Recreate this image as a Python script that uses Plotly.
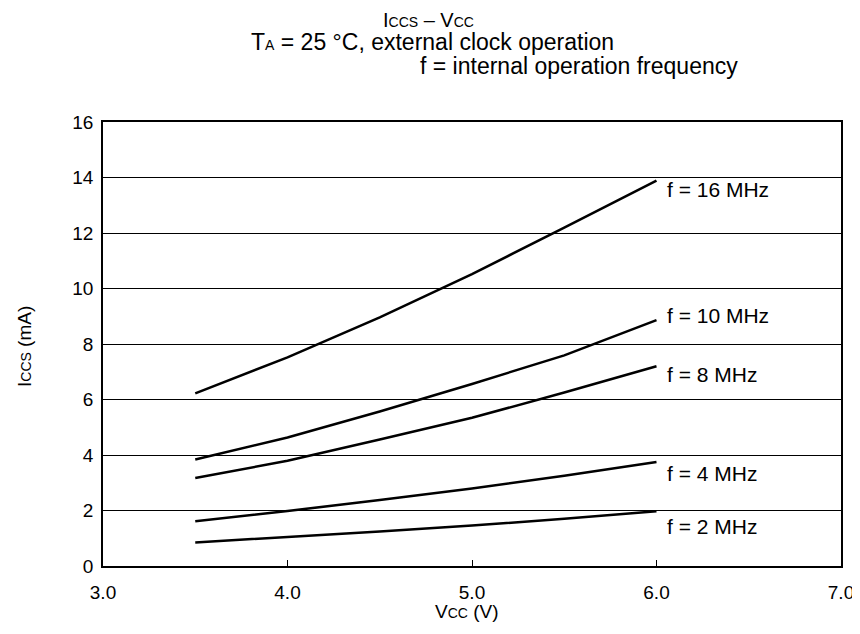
import plotly.graph_objects as go

vcc = [3.5, 4.0, 4.5, 5.0, 5.5, 6.0]
i_16mhz = [6.22, 7.52, 8.96, 10.52, 12.19, 13.89]
i_10mhz = [3.84, 4.63, 5.57, 6.56, 7.59, 8.86]
i_8mhz = [3.17, 3.79, 4.56, 5.34, 6.25, 7.20]
i_4mhz = [1.61, 1.98, 2.38, 2.79, 3.25, 3.75]
i_2mhz = [0.85, 1.04, 1.24, 1.46, 1.70, 1.97]
series_names = ["f = 16 MHz", "f = 10 MHz", "f = 8 MHz", "f = 4 MHz", "f = 2 MHz"]
series_values = [i_16mhz, i_10mhz, i_8mhz, i_4mhz, i_2mhz]
x_ticks = [3.0, 4.0, 5.0, 6.0, 7.0]
x_tick_labels = ["3.0", "4.0", "5.0", "6.0", "7.0"]
y_ticks = [0, 2, 4, 6, 8, 10, 12, 14, 16]

# label placement (layout only): vertical offsets of labels from line ends, in mA
label_dy = [-0.34, 0.18, -0.30, -0.40, -0.55]

FONT = "Liberation Sans, Arial, sans-serif"
SM = "<span style='font-size:14px'>%s</span>"

# page body has an 8px margin; figure coords = window coords - 8
OFF = 8
W, H = 860 - OFF, 634 - OFF
PL, PR, PT, PB = 103, 841, 122, 566  # plot area in window px
L, R, T, B = PL - OFF, W - (PR - OFF), PT - OFF, H - (PB - OFF)
pw = W - L - R
ph = H - T - B

def px_x(x):
    return (x - OFF - L) / pw

def px_y(y):
    return (H - B - (y - OFF)) / ph

fig = go.Figure()
for name, vals in zip(series_names, series_values):
    fig.add_trace(go.Scatter(x=vcc, y=vals, mode="lines", name=name,
                             line=dict(color="black", width=2.5), showlegend=False))

for name, vals, dy in zip(series_names, series_values, label_dy):
    fig.add_annotation(x=vcc[-1], y=vals[-1] + dy, text=name, showarrow=False,
                       xanchor="left", yanchor="middle", xshift=8,
                       font=dict(size=21, color="black", family=FONT))

fig.add_annotation(xref="paper", yref="paper", x=px_x(428), y=px_y(8),
                   text="I" + SM % "CCS" + " – V" + SM % "CC", showarrow=False,
                   xanchor="center", yanchor="top", borderpad=0,
                   font=dict(size=20, color="black", family=FONT))
fig.add_annotation(xref="paper", yref="paper", x=px_x(432), y=px_y(42),
                   text="T" + SM % "A" + " = 25 °C, external clock operation", showarrow=False,
                   xanchor="center", yanchor="middle",
                   font=dict(size=23, color="black", family=FONT))
fig.add_annotation(xref="paper", yref="paper", x=px_x(418), y=px_y(66),
                   text="f = internal operation frequency", showarrow=False,
                   xanchor="left", yanchor="middle",
                   font=dict(size=23, color="black", family=FONT))
fig.add_annotation(xref="paper", yref="paper", x=px_x(24), y=px_y(347),
                   text="I" + SM % "CCS" + " (mA)", showarrow=False, textangle=-90,
                   xanchor="center", yanchor="middle",
                   font=dict(size=19, color="black", family=FONT))
fig.add_annotation(xref="paper", yref="paper", x=px_x(467), y=px_y(611),
                   text="V" + SM % "CC" + " (V)", showarrow=False,
                   xanchor="center", yanchor="middle",
                   font=dict(size=19, color="black", family=FONT))

fig.update_layout(
    width=W, height=H,
    margin=dict(l=L, r=R, t=T, b=B, autoexpand=False),
    paper_bgcolor="white", plot_bgcolor="white",
    font=dict(family=FONT, size=19, color="black"),
    xaxis=dict(range=[3.0, 7.0], tickvals=x_ticks, ticktext=x_tick_labels,
               showgrid=False, zeroline=False, showline=True, linecolor="black",
               linewidth=1.5, mirror=True, ticks="inside", ticklen=6,
               tickcolor="black", tickwidth=1, tickfont=dict(size=19),
               ticklabelstandoff=8),
    yaxis=dict(range=[0, 16], tickvals=y_ticks, showgrid=True, gridcolor="black",
               gridwidth=1, zeroline=False, showline=True, linecolor="black",
               linewidth=1.5, mirror=True, ticks="", tickfont=dict(size=19),
               ticklabelstandoff=4),
)

fig.write_html("out.html")
